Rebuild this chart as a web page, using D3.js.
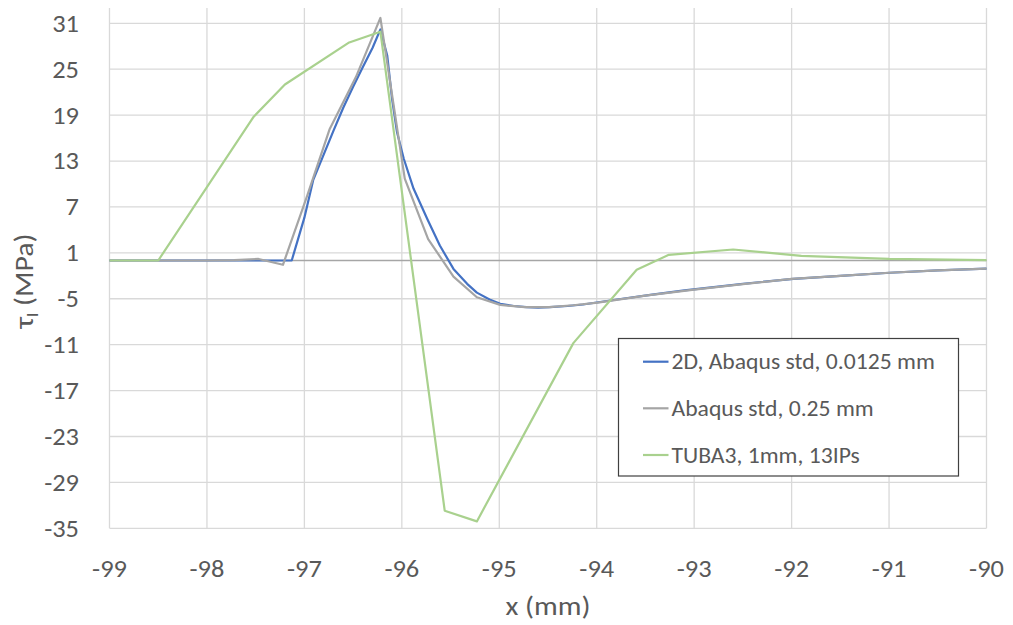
<!DOCTYPE html>
<html>
<head>
<meta charset="utf-8">
<script src="https://cdn.jsdelivr.net/npm/d3@7"></script>
<style>
  html, body { margin: 0; padding: 0; background: #fff; }
  svg { display: block; }
  text { font-family: Carlito, Calibri, Lato, sans-serif; fill: #595959; }
</style>
</head>
<body>
<svg id="chart" width="1013" height="625"></svg>
<script>
// ---- data ----
const seriesNames = ["2D, Abaqus std, 0.0125 mm", "Abaqus std, 0.25 mm", "TUBA3, 1mm, 13IPs"];
const seriesColors = ["#4472C4", "#A5A5A5", "#A9D18E"];

const blueX = [-99, -98, -97.5, -97.13, -97.0, -96.91, -96.8, -96.7, -96.6, -96.5, -96.4, -96.3, -96.22, -96.15, -96.1, -96.05, -95.98, -95.88, -95.74, -95.61, -95.47, -95.33, -95.23, -95.1, -94.99, -94.85, -94.72, -94.6, -94.48, -94.3, -94.14, -93.79, -93.45, -93.1, -92.5, -91.98, -91.5, -90.99, -90.5, -90];
const blueY = [0, 0, 0, 0, 5.6, 10.5, 13.9, 17.0, 20.0, 22.7, 25.3, 27.8, 30.2, 26.8, 21.1, 16.8, 13.3, 9.4, 5.45, 1.96, -1.1, -3.05, -4.2, -5.1, -5.66, -5.95, -6.1, -6.15, -6.1, -5.95, -5.75, -5.1, -4.5, -3.9, -3.05, -2.4, -2.0, -1.6, -1.3, -1.05];

const greyX = [-99, -98.5, -98, -97.72, -97.47, -97.22, -96.97, -96.74, -96.47, -96.22, -95.97, -95.73, -95.47, -95.23, -94.99, -94.74, -94.49, -94.24, -93.99, -93.5, -93, -92.5, -92, -91.5, -91, -90.5, -90];
const greyY = [0, 0, 0, 0.05, 0.2, -0.56, 8.5, 17.2, 24.0, 31.7, 10.7, 2.8, -2.1, -4.8, -5.8, -6.1, -6.1, -5.85, -5.5, -4.6, -3.8, -3.1, -2.4, -2.0, -1.6, -1.3, -1.05];

const greenX = [-99, -98.5, -97.52, -97.2, -96.54, -96.22, -95.56, -95.23, -94.24, -93.59, -93.26, -92.6, -91.9, -91.0, -90];
const greenY = [0, 0, 18.8, 23.0, 28.5, 29.9, -32.7, -34.1, -10.8, -1.2, 0.74, 1.44, 0.6, 0.2, 0.05];

const xTicks = [-99, -98, -97, -96, -95, -94, -93, -92, -91, -90];
const yTicks = [31, 25, 19, 13, 7, 1, -5, -11, -17, -23, -29, -35];
const xTitle = "x (mm)";
const yTitleMain = "τ";
const yTitleSub = "l";
const yTitleRest = " (MPa)";

// ---- layout ----
const svg = d3.select("#chart");
const x = d3.scaleLinear().domain([-99, -90]).range([109.5, 986.5]);
const y = d3.scaleLinear().domain([-35, 33]).range([528.3, 8]);
const SX = 1.1; // horizontal text stretch (reference text is wide)

// gridlines
const grid = svg.append("g");
grid.selectAll("line.h").data(yTicks).enter().append("line")
  .attr("x1", x(-99)).attr("x2", x(-90))
  .attr("y1", d => y(d)).attr("y2", d => y(d))
  .attr("stroke", "#D9D9D9").attr("stroke-width", 1.3);
grid.selectAll("line.v").data(xTicks).enter().append("line")
  .attr("x1", d => x(d)).attr("x2", d => x(d))
  .attr("y1", y(33)).attr("y2", y(-35))
  .attr("stroke", "#D9D9D9").attr("stroke-width", 1.3);

// zero axis line
svg.append("line")
  .attr("x1", x(-99)).attr("x2", x(-90))
  .attr("y1", y(0)).attr("y2", y(0))
  .attr("stroke", "#A6A6A6").attr("stroke-width", 1.3);

// y tick labels
svg.append("g").selectAll("text").data(yTicks).enter().append("text")
  .attr("transform", d => `translate(79,${y(d)}) scale(${SX},1)`)
  .attr("dy", "0.35em")
  .attr("text-anchor", "end").attr("font-size", 24)
  .text(d => d);

// x tick labels
svg.append("g").selectAll("text").data(xTicks).enter().append("text")
  .attr("transform", d => `translate(${x(d)},569) scale(${SX},1)`)
  .attr("dy", "0.35em")
  .attr("text-anchor", "middle").attr("font-size", 24)
  .text(d => d);

// axis titles
svg.append("text")
  .attr("transform", `translate(${(x(-99) + x(-90)) / 2},606) scale(${SX},1)`)
  .attr("dy", "0.35em")
  .attr("text-anchor", "middle").attr("font-size", 27).text(xTitle);

const yt = svg.append("text")
  .attr("transform", `translate(33,281) rotate(-90) scale(${SX},1)`)
  .attr("text-anchor", "middle").attr("font-size", 27);
yt.append("tspan").text(yTitleMain);
yt.append("tspan").attr("font-size", 17).attr("dy", 5).text(yTitleSub);
yt.append("tspan").attr("dy", -5).text(yTitleRest);

// series
const line = d3.line().x(d => x(d[0])).y(d => y(d[1]));
const seriesData = [
  d3.zip(blueX, blueY),
  d3.zip(greyX, greyY),
  d3.zip(greenX, greenY)
];
svg.append("g").selectAll("path").data(seriesData).enter().append("path")
  .attr("d", line)
  .attr("fill", "none")
  .attr("stroke", (d, i) => seriesColors[i])
  .attr("stroke-width", 2.2)
  .attr("stroke-linejoin", "round");

// legend
const lg = svg.append("g");
lg.append("rect").attr("x", 618.5).attr("y", 338.5).attr("width", 340).attr("height", 137.5)
  .attr("fill", "#fff").attr("stroke", "#404040").attr("stroke-width", 1.2);
const rowsY = [361.7, 408.3, 455];
seriesNames.forEach((name, i) => {
  lg.append("line").attr("x1", 643).attr("x2", 668.5)
    .attr("y1", rowsY[i]).attr("y2", rowsY[i])
    .attr("stroke", seriesColors[i]).attr("stroke-width", 2.2);
  lg.append("text")
    .attr("transform", `translate(671.5,${rowsY[i]}) scale(${SX},1)`)
    .attr("dy", "0.35em")
    .attr("font-size", 21.5).text(name);
});
</script>
</body>
</html>
